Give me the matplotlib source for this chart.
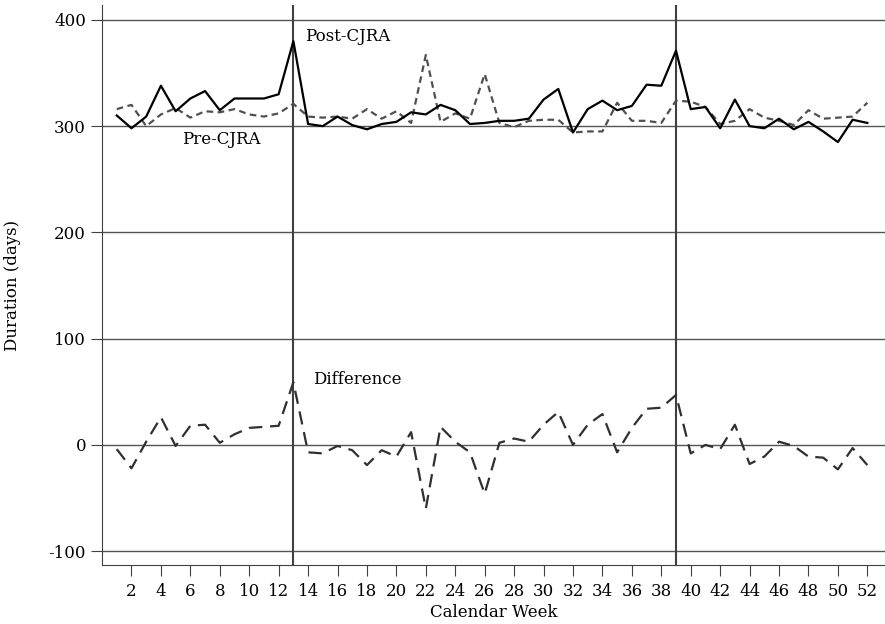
import numpy as np
import matplotlib
matplotlib.use("Agg")
import matplotlib.pyplot as plt

plt.rcParams['font.family'] = ['DejaVu Serif']
plt.rcParams['axes.unicode_minus'] = False

weeks = list(range(1, 53))

# Post-CJRA median duration (days), solid line
post = [310, 298, 309, 338, 314, 326, 333, 315, 326, 326, 326, 330, 380,
        302, 300, 309, 301, 297, 302, 304, 313, 311, 320, 315, 302, 303,
        305, 305, 307, 325, 335, 294, 316, 324, 315, 319, 339, 338, 371,
        316, 318, 298, 325, 300, 298, 307, 297, 304, 295, 285, 306, 303]

# Pre-CJRA median duration (days), short dashes
pre = [316, 320, 300, 311, 317, 308, 314, 313, 316, 311, 309, 312, 321,
       309, 308, 309, 307, 316, 307, 314, 303, 367, 304, 312, 307, 349,
       303, 299, 305, 306, 306, 294, 295, 295, 322, 305, 305, 303, 324,
       323, 318, 302, 305, 316, 308, 305, 301, 315, 307, 308, 309, 322]

# Difference (post - pre), long dashes
diff = [-4, -22, 3, 26, -1, 18, 19, 2, 10, 16, 17, 18, 59,
        -7, -8, -1, -5, -19, -5, -11, 12, -60, 17, 3, -7, -46,
        2, 6, 3, 19, 31, 0, 19, 29, -7, 16, 34, 35, 47,
        -8, 0, -4, 19, -18, -11, 3, -1, -11, -12, -23, -3, -19]

yticks = [-100, 0, 100, 200, 300, 400]
xticks = list(range(2, 53, 2))
cutoffs = [13, 39]

fig = plt.figure(figsize=(8.85, 6.24), dpi=100)
ax = fig.add_axes([0.1153, 0.0946, 0.8847, 0.8974])

for y in yticks:
  ax.axhline(y, color='#555555', lw=1.0, zorder=1)
for c in cutoffs:
  ax.axvline(c, color='#404040', lw=1.5, zorder=2)

ax.plot(weeks, pre, color='#505050', lw=1.6, linestyle=(0, (3, 2)), zorder=3)
ax.plot(weeks, post, color='black', lw=1.6, zorder=4)
ax.plot(weeks, diff, color='#303030', lw=1.6, linestyle=(0, (6, 3.5)), zorder=3)

ax.text(13.8, 384, 'Post-CJRA', fontsize=12, va='center', ha='left')
ax.text(5.45, 287, 'Pre-CJRA', fontsize=12, va='center', ha='left')
ax.text(14.35, 62, 'Difference', fontsize=12, va='center', ha='left')

ax.set_xlim(0, 53.2)
ax.set_ylim(-113, 414)
ax.set_xticks(xticks)
ax.set_yticks(yticks)
ax.tick_params(axis='both', labelsize=12, color='#404040', length=8, direction='out')
ax.tick_params(axis='x', pad=5)
ax.set_xlabel('Calendar Week', fontsize=12, labelpad=3)
ax.set_ylabel('Duration (days)', fontsize=12, labelpad=20)

ax.spines['top'].set_visible(False)
ax.spines['right'].set_visible(False)
ax.spines['left'].set_color('#404040')
ax.spines['bottom'].set_color('#404040')

fig.savefig('out.png', dpi=100)
